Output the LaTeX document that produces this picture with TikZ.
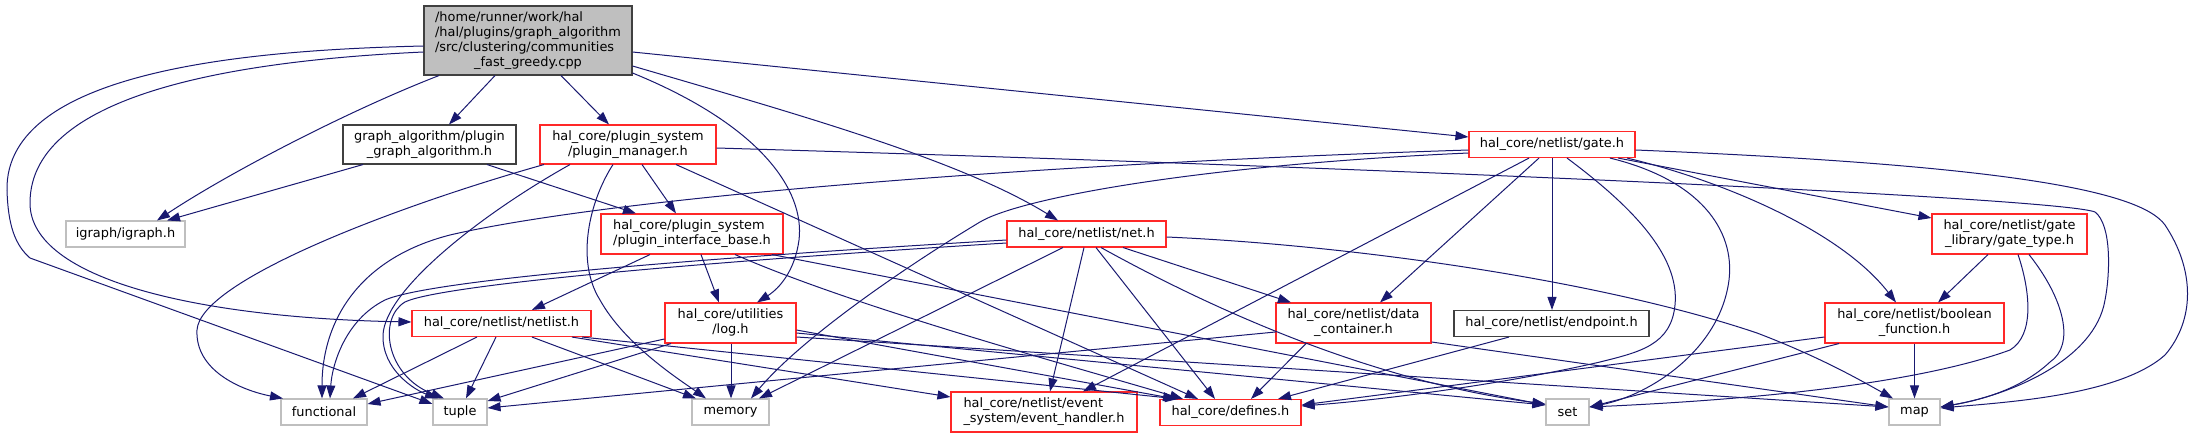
\documentclass[tikz,border=0pt]{standalone}
\usepackage{fontspec}
\setmainfont{DejaVu Sans}
\usetikzlibrary{arrows.meta}
\definecolor{eblue}{RGB}{25,25,112}
\definecolor{nred}{RGB}{255,40,40}
\definecolor{ngray}{RGB}{191,191,191}
\definecolor{ndark}{RGB}{64,64,64}
\definecolor{rootfill}{RGB}{191,191,191}
\newcommand\twolines[2]{\begin{tabular}{@{}l@{}}#1\\\multicolumn{1}{@{}c@{}}{#2}\end{tabular}}
\begin{document}
\begin{tikzpicture}[x=1pt,y=-1pt,
  nb/.style={rectangle,inner sep=0pt,line width=1.1pt,fill=white,text=black,font=\fontsize{12.9}{15}\selectfont},
  redn/.style={nb,draw=nred},
  blkn/.style={nb,draw=ndark},
  grayn/.style={nb,draw=ngray},
  rootn/.style={nb,draw=ndark,fill=rootfill},
  e/.style={draw=eblue,line width=1pt,-{Triangle[length=13pt,width=9pt]}}]
\useasboundingbox (0,0) rectangle (2195,439);
% nodes
\node[rootn,minimum width=208pt,minimum height=69pt] (R) at (528,40.5) {\begin{tabular}{@{}l@{}}/home/runner/work/hal\\/hal/plugins/graph\_algorithm\\/src/clustering/communities\\\multicolumn{1}{@{}c@{}}{\_fast\_greedy.cpp}\end{tabular}};
\node[blkn,minimum width=173pt,minimum height=39pt] (GA) at (429.5,144.5) {\twolines{graph\_algorithm/plugin}{\_graph\_algorithm.h}};
\node[redn,minimum width=176pt,minimum height=39pt] (PM) at (628,144.5) {\twolines{hal\_core/plugin\_system}{/plugin\_manager.h}};
\node[grayn,minimum width=119pt,minimum height=26pt] (IG) at (125.5,234) {igraph/igraph.h};
\node[redn,minimum width=182pt,minimum height=40pt] (PIB) at (692,234) {\twolines{hal\_core/plugin\_system}{/plugin\_interface\_base.h}};
\node[redn,minimum width=159pt,minimum height=26pt] (NET) at (1086.5,234) {hal\_core/netlist/net.h};
\node[redn,minimum width=166pt,minimum height=26pt] (GATE) at (1552,144.5) {hal\_core/netlist/gate.h};
\node[redn,minimum width=155pt,minimum height=40pt] (GT) at (2009.5,234) {\twolines{hal\_core/netlist/gate}{\_library/gate\_type.h}};
\node[redn,minimum width=179pt,minimum height=26pt] (NL) at (501.5,323.5) {hal\_core/netlist/netlist.h};
\node[redn,minimum width=131pt,minimum height=40pt] (LOG) at (730.5,323) {\twolines{hal\_core/utilities}{/log.h}};
\node[redn,minimum width=155pt,minimum height=40pt] (DC) at (1353.5,323) {\twolines{hal\_core/netlist/data}{\_container.h}};
\node[blkn,minimum width=195pt,minimum height=26pt] (EP) at (1551.5,323.5) {hal\_core/netlist/endpoint.h};
\node[redn,minimum width=179pt,minimum height=40pt] (BF) at (1914.5,323) {\twolines{hal\_core/netlist/boolean}{\_function.h}};
\node[grayn,minimum width=86pt,minimum height=26pt] (FUN) at (324,412) {functional};
\node[grayn,minimum width=54pt,minimum height=26pt] (TU) at (460,412) {tuple};
\node[grayn,minimum width=77pt,minimum height=26pt] (MEM) at (730.5,412) {memory};
\node[redn,minimum width=186pt,minimum height=40pt] (EVH) at (1044,412) {\twolines{hal\_core/netlist/event}{\_system/event\_handler.h}};
\node[redn,minimum width=141pt,minimum height=26pt] (DEF) at (1230.5,412.5) {hal\_core/defines.h};
\node[grayn,minimum width=43pt,minimum height=26pt] (SET) at (1567.5,412) {set};
\node[grayn,minimum width=51pt,minimum height=26pt] (MAP) at (1914.5,412) {map};
% root edges
\draw[e] (R.south -| 495,0) -- (GA.north -| 449,0);
\draw[e] (R.south -| 561,0) -- (PM.north -| 609,0);
\draw[e] (R.south -| 439,0) .. controls (350,110) and (230,172) .. (IG.north -| 157,0);
\draw[e] (R.west |- 0,52) .. controls (250,60) and (30,90) .. (30,203) .. controls (30,280) and (200,318) .. (NL.west |- 0,322);
\draw[e] (R.west |- 0,46) .. controls (250,50) and (5,70) .. (7,190) .. controls (8,225) and (15,245) .. (30,258) -- (TU.west |- 0,404);
\draw[e] (R.east |- 0,73) .. controls (760,125) and (805,190) .. (799,240) .. controls (795,270) and (780,288) .. (LOG.north -| 757,0);
\draw[e] (R.east |- 0,66) .. controls (800,115) and (960,160) .. (NET.north -| 1058,0);
\draw[e] (R.east |- 0,52) -- (GATE.west |- 0,137);
% graph_algorithm
\draw[e] (GA.south -| 363,0) -- (IG.north -| 167,0);
\draw[e] (GA.south -| 487,0) -- (PIB.north -| 636,0);
% plugin_manager
\draw[e] (PM.south -| 642,0) -- (PIB.north -| 676,0);
\draw[e] (PM.south -| 544,0) .. controls (400,205) and (200,280) .. (197,330) .. controls (195,370) and (240,390) .. (FUN.north -| 283,0);
\draw[e] (PM.south -| 570,0) .. controls (480,215) and (385,290) .. (383,335) .. controls (382,370) and (415,390) .. (TU.north -| 438,0);
\draw[e] (PM.south -| 613,0) .. controls (590,200) and (575,260) .. (600,300) .. controls (625,345) and (680,380) .. (MEM.north -| 706,0);
\draw[e] (PM.south -| 676,0) -- (DEF.north -| 1198,0);
\draw[e] (PM.east |- 0,148) .. controls (1400,168) and (2060,198) .. (2095,212) .. controls (2112,225) and (2110,275) .. (2105,300) .. controls (2095,360) and (2010,395) .. (MAP.east |- 0,407);
% plugin_interface_base
\draw[e] (PIB.south -| 650,0) -- (NL.north -| 532,0);
\draw[e] (PIB.south -| 701,0) -- (LOG.north -| 719,0);
\draw[e] (PIB.south -| 735,0) .. controls (850,305) and (1050,360) .. (DEF.north -| 1183,0);
\draw[e] (PIB.south -| 772,0) -- (SET.west |- 0,405);
% netlist
\draw[e] (NL.south -| 477,0) -- (FUN.north -| 353,0);
\draw[e] (NL.south -| 496,0) -- (TU.north -| 466,0);
\draw[e] (NL.south -| 532,0) -- (MEM.north -| 696,0);
\draw[e] (NL.south -| 572,0) -- (EVH.west |- 0,397);
\draw[e] (NL.south -| 582,0) -- (DEF.north -| 1178,0);
% log
\draw[e] (LOG.west |- 0,339) -- (FUN.east |- 0,404);
\draw[e] (LOG.south -| 671,0) -- (TU.east |- 0,401);
\draw[e] (LOG.south -| 731,0) -- (MEM.north -| 731,0);
\draw[e] (LOG.east |- 0,330) -- (DEF.north -| 1176,0);
\draw[e] (LOG.east |- 0,333) -- (SET.west |- 0,405);
\draw[e] (LOG.east |- 0,337) -- (MAP.west |- 0,407);
% net
\draw[e] (NET.west |- 0,240) .. controls (700,258) and (430,280) .. (385,300) .. controls (345,320) and (332,365) .. (FUN.north -| 330,0);
\draw[e] (NET.west |- 0,243) .. controls (700,262) and (440,285) .. (405,302) .. controls (378,318) and (385,375) .. (TU.north -| 444,0);
\draw[e] (NET.south -| 1063,0) -- (MEM.north -| 759,0);
\draw[e] (NET.south -| 1084,0) -- (EVH.north -| 1050,0);
\draw[e] (NET.south -| 1096,0) -- (DEF.north -| 1215,0);
\draw[e] (NET.south -| 1101,0) .. controls (1250,330) and (1400,385) .. (SET.west |- 0,404);
\draw[e] (NET.south -| 1123,0) -- (DC.north -| 1291,0);
\draw[e] (NET.east |- 0,237) .. controls (1350,245) and (1600,280) .. (1757,333) .. controls (1820,357) and (1860,380) .. (MAP.north -| 1893,0);
% gate
\draw[e] (GATE.west |- 0,150) .. controls (1000,165) and (600,200) .. (450,235) .. controls (360,258) and (322,320) .. (FUN.north -| 322,0);
\draw[e] (GATE.west |- 0,153) .. controls (1200,165) and (1020,198) .. (980,222) .. controls (900,270) and (800,340) .. (MEM.north -| 751,0);
\draw[e] (GATE.south -| 1529,0) -- (EVH.north -| 1083,0);
\draw[e] (GATE.south -| 1539,0) -- (DC.north -| 1380,0);
\draw[e] (GATE.south -| 1552,0) -- (EP.north -| 1552,0);
\draw[e] (GATE.south -| 1567,0) .. controls (1630,205) and (1680,255) .. (1675,305) .. controls (1671,345) and (1640,352) .. (1600,362) .. controls (1500,385) and (1380,400) .. (DEF.east |- 0,406);
\draw[e] (GATE.south -| 1610,0) .. controls (1700,180) and (1735,230) .. (1729,280) .. controls (1720,350) and (1650,395) .. (SET.east |- 0,407);
\draw[e] (GATE.south -| 1618,0) -- (GT.west |- 0,218);
\draw[e] (GATE.south -| 1627,0) .. controls (1720,180) and (1840,230) .. (BF.north -| 1896,0);
\draw[e] (GATE.east |- 0,150) .. controls (2000,165) and (2140,190) .. (2165,225) .. controls (2195,270) and (2195,320) .. (2165,355) .. controls (2120,395) and (2010,402) .. (MAP.east |- 0,408);
% data container
\draw[e] (DC.west |- 0,332) -- (TU.east |- 0,408);
\draw[e] (DC.south -| 1306,0) -- (DEF.north -| 1251,0);
\draw[e] (DC.east |- 0,342) -- (MAP.west |- 0,407);
% endpoint
\draw[e] (EP.south -| 1509,0) -- (DEF.north -| 1278,0);
% gate type
\draw[e] (GT.south -| 1988,0) -- (BF.north -| 1938,0);
\draw[e] (GT.south -| 2018,0) .. controls (2030,290) and (2035,335) .. (2010,350) .. controls (1900,390) and (1700,402) .. (SET.east |- 0,407);
\draw[e] (GT.south -| 2029,0) .. controls (2065,300) and (2075,345) .. (2050,362) .. controls (2020,390) and (1980,400) .. (MAP.east |- 0,407);
% boolean function
\draw[e] (BF.south) -- (MAP.north);
\draw[e] (BF.west |- 0,337) -- (DEF.east |- 0,405);
\draw[e] (BF.south -| 1839,0) -- (SET.east |- 0,407);
\end{tikzpicture}
\end{document}
